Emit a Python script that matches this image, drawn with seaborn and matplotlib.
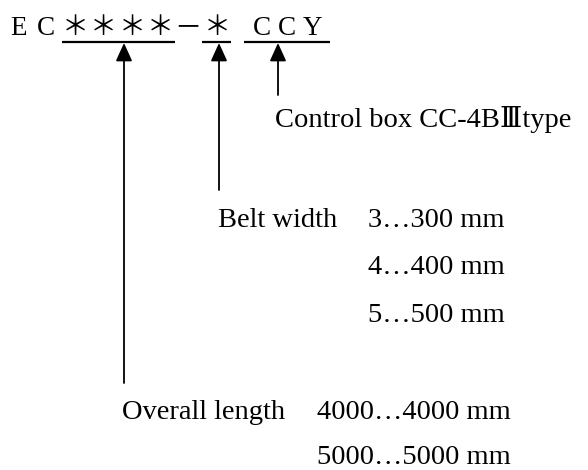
import matplotlib
matplotlib.use('Agg')
import matplotlib.pyplot as plt
import seaborn as sns

# model code characters and their centres
code_chars = ['E', 'C', '＊', '＊', '＊', '＊', '－', '＊', 'C', 'C', 'Y']
code_x = [19, 46, 75, 103, 132, 160, 188, 217, 262, 287, 312]

# underlined groups of the code (x start, x end)
groups = [(62, 175), (202, 231), (244, 330)]

# arrows: x position, bottom end of the stem
arrow_x = [124, 219, 278]
arrow_end = [383, 190, 95]

belt_label = 'Belt width'
belt_values = ['3…300 mm', '4…400 mm', '5…500 mm']
length_label = 'Overall length'
length_values = ['4000…4000 mm', '5000…5000 mm']
box_label = 'Control box CC-4BⅢtype'


def main():
    sns.set_theme(style='white')
    plt.rcParams['font.family'] = ['Liberation Serif', 'DejaVu Serif', 'Noto Sans CJK JP']

    fig = plt.figure(figsize=(5.88, 4.70), dpi=100)
    ax = fig.add_axes([0, 0, 1, 1])
    ax.set_xlim(0, 588)
    ax.set_ylim(470, 0)
    ax.axis('off')

    for ch, x in zip(code_chars, code_x):
        ax.text(x, 35, ch, fontsize=19.5, ha='center', va='baseline', color='black')

    for x0, x1 in groups:
        ax.plot([x0, x1], [41.5, 41.5], color='black', lw=1.6, solid_capstyle='butt')

    for x, y_end in zip(arrow_x, arrow_end):
        ax.annotate('', xy=(x, 43), xytext=(x, y_end),
                    arrowprops=dict(arrowstyle='-|>,head_length=11,head_width=5',
                                    mutation_scale=1, color='black', lw=1.3,
                                    shrinkA=0, shrinkB=0))

    fs = 20.5
    ax.text(275, 127, box_label, fontsize=fs, va='baseline', color='black')

    ax.text(218, 227, belt_label, fontsize=fs, va='baseline', color='black')
    for i, v in enumerate(belt_values):
        ax.text(368, 227 + i * 47.5, v, fontsize=fs, va='baseline', color='black')

    ax.text(122, 419, length_label, fontsize=fs, va='baseline', color='black')
    for i, v in enumerate(length_values):
        ax.text(317, 419 + i * 45, v, fontsize=fs, va='baseline', color='black')

    fig.savefig('out.png', dpi=100, facecolor='white')
    plt.close(fig)


if __name__ == '__main__':
    main()
